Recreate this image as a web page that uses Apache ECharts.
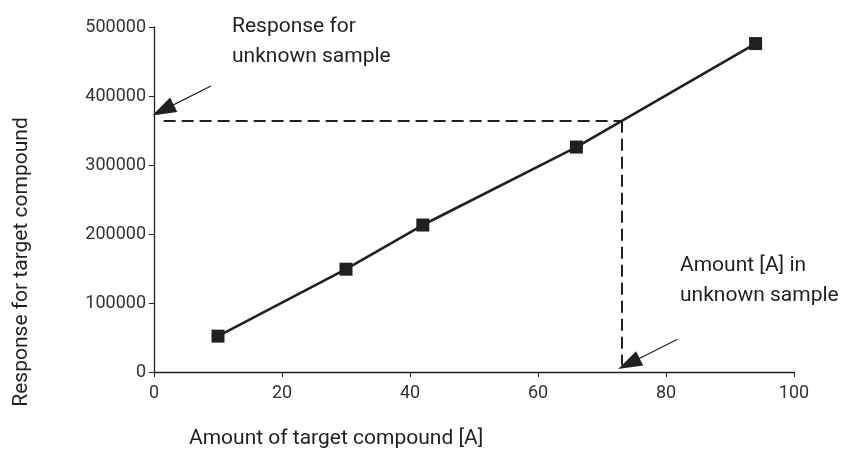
<!DOCTYPE html>
<html><head><meta charset="utf-8">
<script src="https://cdn.jsdelivr.net/npm/echarts@6/dist/echarts.min.js"></script>
<style>html,body{margin:0;padding:0;background:#fff}#c{width:843px;height:457px}</style>
</head><body><div id="c"></div>
<script>
var amounts = [10, 30, 42, 66, 94];
var responses = [52000, 149000, 213000, 326000, 476000];
var xTicks = [0, 20, 40, 60, 80, 100];
var yTicks = [0, 100000, 200000, 300000, 400000, 500000];
var unknownAmount = 73.1;
var unknownResponse = 364000;
var dashStartX = 1.5;
var dashEndY = 10000;
var arrow1 = [[8.9, 414500], [1.4, 379500]];
var arrow2 = [[81.8, 47400], [74.2, 12000]];

var FONT = "'Roboto', sans-serif";
var INK = '#231f20';
var chart = echarts.init(document.getElementById('c'));
var pts = amounts.map(function (a, i) { return [a, responses[i]]; });
chart.setOption({
  animation: false,
  grid: { left: 154, right: 49, top: 27, bottom: 85, containLabel: false, outerBoundsMode: 'none' },
  xAxis: {
    type: 'value', min: xTicks[0], max: xTicks[xTicks.length - 1], interval: 20,
    splitLine: { show: false },
    axisLine: { lineStyle: { color: INK, width: 1.3 } },
    axisTick: { show: true, length: 5, lineStyle: { color: INK } },
    axisLabel: { color: '#333', fontFamily: FONT, fontSize: 18, margin: 12, formatter: function (v) { return String(v); } }
  },
  yAxis: {
    type: 'value', min: yTicks[0], max: yTicks[yTicks.length - 1], interval: 100000,
    splitLine: { show: false },
    axisLine: { show: true, lineStyle: { color: INK, width: 1.3 } },
    axisTick: { show: true, length: 5, lineStyle: { color: INK } },
    axisLabel: { color: '#333', fontFamily: FONT, fontSize: 18, margin: 8, formatter: function (v) { return String(v); } }
  },
  graphic: [
    { type: 'text', left: 232, top: 12, style: { text: 'Response for\nunknown sample', font: "21px " + FONT, fill: INK, lineHeight: 30 } },
    { type: 'text', left: 680, top: 251, style: { text: 'Amount [A] in\nunknown sample', font: "21px " + FONT, fill: INK, lineHeight: 30 } },
    { type: 'text', left: 189, top: 428, style: { text: 'Amount of target compound [A]', font: "21px " + FONT, fill: INK } },
    { type: 'text', x: 22, y: 262, rotation: Math.PI / 2, style: { text: 'Response for target compound', font: "21px " + FONT, fill: INK, align: 'center', verticalAlign: 'middle' } }
  ],
  series: [
    {
      type: 'line', data: pts, symbol: 'rect', symbolSize: 13,
      lineStyle: { color: INK, width: 2.6 }, itemStyle: { color: INK },
      z: 5,
      markLine: {
        silent: true, symbol: ['none', 'none'], label: { show: false },
        lineStyle: { color: INK, width: 2, type: [12, 6] },
        data: [
          [{ coord: [dashStartX, unknownResponse] }, { coord: [unknownAmount, unknownResponse] }],
          [{ coord: [unknownAmount, unknownResponse] }, { coord: [unknownAmount, dashEndY] }]
        ]
      }
    },
    {
      type: 'line', data: [],
      markLine: {
        silent: true, symbol: ['none', 'triangle'], symbolSize: [16, 24], label: { show: false },
        lineStyle: { color: INK, width: 1.2, type: 'solid' }, itemStyle: { color: INK },
        data: [
          [{ coord: arrow1[0] }, { coord: arrow1[1] }],
          [{ coord: arrow2[0] }, { coord: arrow2[1] }]
        ]
      }
    }
  ]
});
</script></body></html>
